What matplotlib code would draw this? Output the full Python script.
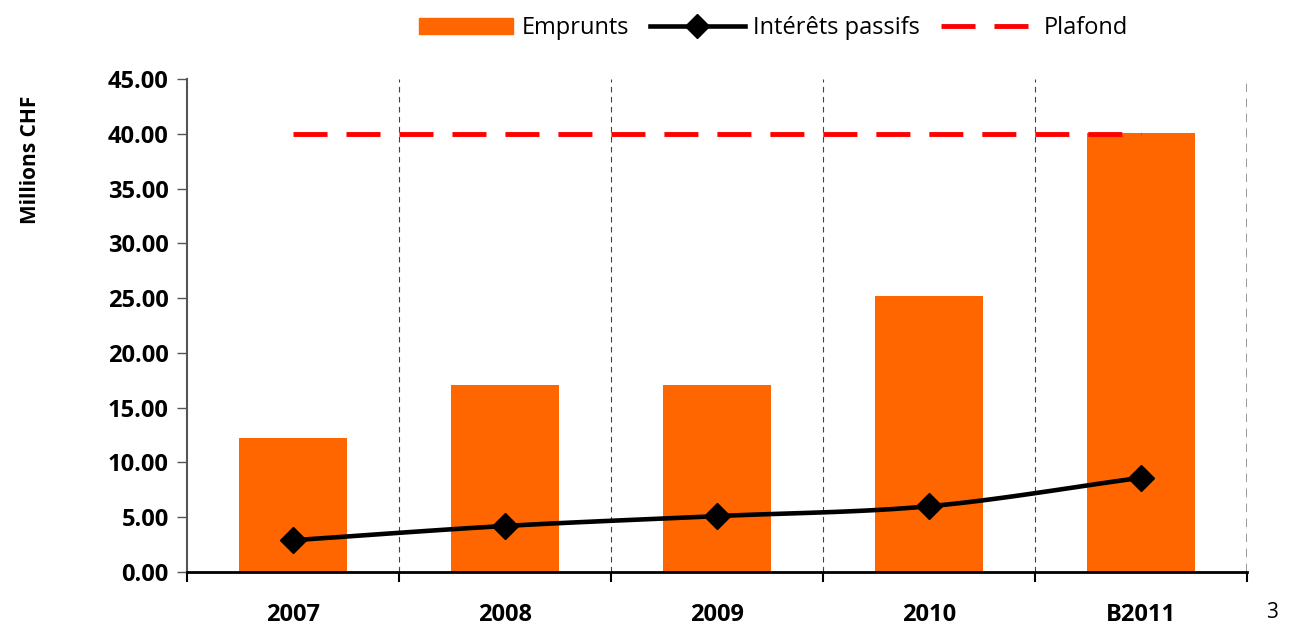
import numpy as np
import matplotlib.pyplot as plt
from matplotlib.lines import Line2D
from matplotlib.patches import Patch

# Data
years = ['2007', '2008', '2009', '2010', 'B2011']
emprunts = [12.2, 17.1, 17.1, 25.2, 40.1]
interets = [2.9, 4.2, 5.1, 6.0, 8.6]
plafond = [40.0, 40.0, 40.0, 40.0, 40.0]


def smooth_line(x, y, n=30):
    """Catmull-Rom style smoothing, similar to Excel's smoothed line."""
    x = np.asarray(x, dtype=float)
    y = np.asarray(y, dtype=float)
    px = np.concatenate([[2 * x[0] - x[1]], x, [2 * x[-1] - x[-2]]])
    py = np.concatenate([[2 * y[0] - y[1]], y, [2 * y[-1] - y[-2]]])
    xs, ys = [], []
    for i in range(1, len(px) - 2):
        t = np.linspace(0, 1, n)
        for p, out in ((px, xs), (py, ys)):
            p0, p1, p2, p3 = p[i - 1], p[i], p[i + 1], p[i + 2]
            out.append(0.5 * ((2 * p1) + (-p0 + p2) * t
                              + (2 * p0 - 5 * p1 + 4 * p2 - p3) * t ** 2
                              + (-p0 + 3 * p1 - 3 * p2 + p3) * t ** 3))
    return np.concatenate(xs), np.concatenate(ys)


plt.rcParams['font.family'] = ['Open Sans', 'DejaVu Sans']

fig = plt.figure(figsize=(12.89, 6.25), dpi=100)
ax = fig.add_axes([0.145, 0.0848, 0.8224, 0.7888])

x = np.arange(len(years))
orange = '#FF6600'
dash = (7, 3.9)

ax.bar(x, emprunts, width=0.51, color=orange, zorder=2)
sx, sy = smooth_line(x, interets)
ax.plot(sx, sy, color='black', lw=3.3, zorder=3)
ax.plot(x, interets, linestyle='none', marker='D', color='black',
        markersize=13, zorder=4)
ax.plot(x, plafond, color='#FF0000', lw=3.5, dashes=dash, zorder=3)

ax.set_xlim(-0.5, len(years) - 0.5)
ax.set_ylim(0, 45)
ax.set_yticks(np.arange(0, 46, 5))
ax.set_yticklabels([f'{v:.2f}' for v in np.arange(0, 46, 5)],
                   fontsize=17, fontweight='bold')
ax.set_xticks(x)
ax.set_xticklabels(years, fontsize=17, fontweight='bold')
ax.tick_params(axis='x', which='major', length=0, pad=22)
ax.set_xticks(np.arange(-0.5, len(years)), minor=True)
ax.tick_params(axis='x', which='minor', length=7, width=1.5, direction='out')
ax.tick_params(axis='y', length=7, width=1, color='#555555', pad=6)

# vertical dashed separators
for b in np.arange(0.5, len(years)):
    ax.axvline(b, color='#444444', lw=0.8, dashes=(5, 4), zorder=1)
ax.axvline(len(years) - 0.5, color='#888888', lw=1.2, dashes=(5, 4), zorder=1)

ax.spines['top'].set_visible(False)
ax.spines['right'].set_visible(False)
ax.spines['left'].set_color('#555555')
ax.spines['left'].set_linewidth(1.5)
ax.spines['bottom'].set_linewidth(2)

ax.set_ylabel('Millions CHF', fontsize=15, fontweight='bold')
ax.yaxis.set_label_coords(-0.138, 0.836)

handles = [
    Patch(color=orange),
    Line2D([], [], color='black', lw=3.3, marker='D', markersize=12),
    Line2D([], [], color='#FF0000', lw=3.5, dashes=dash),
]
fig.legend(handles, ['Emprunts', 'Intérêts passifs', 'Plafond'],
           loc='center', bbox_to_anchor=(0.6, 0.955), ncol=3, frameon=False,
           fontsize=17, handlelength=4.0, handletextpad=0.35, columnspacing=0.9)

fig.text(0.9915, 0.02, '3', fontsize=15, ha='right', va='center')

fig.savefig('out.png', dpi=100)
